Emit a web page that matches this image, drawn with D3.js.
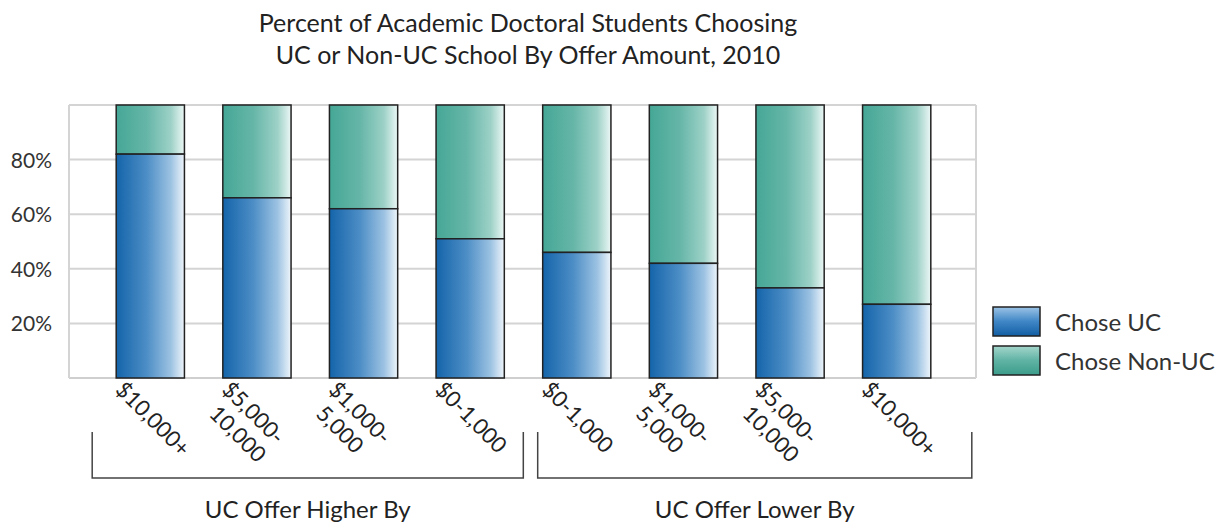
<!DOCTYPE html>
<html>
<head>
<meta charset="utf-8">
<script src="https://cdn.jsdelivr.net/npm/d3@7"></script>
<style>
  body { margin: 0; background: #fff; }
  svg { display: block; font-family: Lato, "Open Sans", sans-serif; }
</style>
</head>
<body>
<svg id="chart" width="1228" height="522"></svg>
<script>
// data
const offerBands = ['h10', 'h5', 'h1', 'h0', 'l0', 'l1', 'l5', 'l10'];
const bandLabels = [
  ['$10,000+'], ['$5,000-', '10,000'], ['$1,000-', '5,000'], ['$0-1,000'],
  ['$0-1,000'], ['$1,000-', '5,000'], ['$5,000-', '10,000'], ['$10,000+']
];
const choseUC = [82, 66, 62, 51, 46, 42, 33, 27];
const yTicks = [20, 40, 60, 80];
const groups = [
  { label: 'UC Offer Higher By', from: 0, to: 3 },
  { label: 'UC Offer Lower By', from: 4, to: 7 }
];
const seriesNames = ['Chose UC', 'Chose Non-UC'];

const svg = d3.select('#chart');
const plot = { left: 69, right: 976, top: 105, bottom: 378 };

const x = d3.scaleBand().domain(offerBands).range([97, 950]).paddingInner(0.36).paddingOuter(0.18);
const y = d3.scaleLinear().domain([0, 100]).range([plot.bottom, plot.top]);

// gradients
const defs = svg.append('defs');
function grad(id, stops, vertical) {
  const g = defs.append('linearGradient').attr('id', id)
    .attr('x1', 0).attr('y1', 0).attr('x2', vertical ? 0 : 1).attr('y2', vertical ? 1 : 0);
  stops.forEach(s => g.append('stop').attr('offset', s[0]).attr('stop-color', s[1]));
}
grad('gBlue', [[0, '#1464aa'], [0.45, '#4d8ec6'], [0.8, '#9cc2e2'], [1, '#eef5fb']], false);
grad('gTeal', [[0, '#45a796'], [0.45, '#66b6a8'], [0.8, '#9dd1c7'], [1, '#ecf7f5']], false);
grad('gBlueLeg', [[0, '#9cc4e6'], [0.5, '#3f86c6'], [1, '#125ea3']], true);
grad('gTealLeg', [[0, '#a5d6cc'], [0.5, '#5fb3a4'], [1, '#3c9c8b']], true);

// title
svg.append('text').attr('x', 528).attr('y', 32).attr('text-anchor', 'middle')
  .attr('font-size', 25).attr('fill', '#222')
  .selectAll('tspan').data(['Percent of Academic Doctoral Students Choosing', 'UC or Non-UC School By Offer Amount, 2010'])
  .enter().append('tspan').attr('x', 528).attr('dy', (d, i) => i ? 32 : 0).text(d => d);

// grid
svg.append('g').selectAll('line').data([...yTicks, 100]).enter().append('line')
  .attr('x1', plot.left).attr('x2', plot.right)
  .attr('y1', d => y(d)).attr('y2', d => y(d))
  .attr('stroke', '#d4d4d4').attr('stroke-width', 2);
svg.append('line').attr('x1', plot.left).attr('x2', plot.right).attr('y1', plot.bottom).attr('y2', plot.bottom)
  .attr('stroke', '#cfcfcf').attr('stroke-width', 2);
[plot.left, plot.right].forEach(px => svg.append('line').attr('x1', px).attr('x2', px)
  .attr('y1', plot.top).attr('y2', plot.bottom).attr('stroke', '#d4d4d4').attr('stroke-width', 2));

// y labels
svg.append('g').selectAll('text').data(yTicks).enter().append('text')
  .attr('x', 52).attr('y', d => y(d) + 8).attr('text-anchor', 'end')
  .attr('font-size', 21).attr('fill', '#333').text(d => d + '%');

// bars
const bars = svg.append('g');
bars.selectAll('rect.nonuc').data(offerBands).enter().append('rect')
  .attr('x', d => x(d)).attr('width', x.bandwidth())
  .attr('y', y(100)).attr('height', (d, i) => y(choseUC[i]) - y(100))
  .attr('fill', 'url(#gTeal)').attr('stroke', '#222').attr('stroke-width', 1.5);
bars.selectAll('rect.uc').data(offerBands).enter().append('rect')
  .attr('x', d => x(d)).attr('width', x.bandwidth())
  .attr('y', (d, i) => y(choseUC[i])).attr('height', (d, i) => y(0) - y(choseUC[i]))
  .attr('fill', 'url(#gBlue)').attr('stroke', '#222').attr('stroke-width', 1.5);

// x labels, rotated
const lab = svg.append('g').selectAll('text').data(offerBands).enter().append('text')
  .attr('transform', d => `translate(${x(d) - 2},${plot.bottom + 13}) rotate(45)`)
  .attr('font-size', 22).attr('fill', '#222');
lab.selectAll('tspan').data((d, i) => bandLabels[i]).enter().append('tspan')
  .attr('x', (d, i) => i ? 8 : 0).attr('dy', (d, i) => i ? 26 : 0).text(d => d);

// group brackets
const bracketPad = [[-24, 19], [-5, 41]];
groups.forEach((g, gi) => {
  const x0 = x(offerBands[g.from]) + bracketPad[gi][0];
  const x1 = x(offerBands[g.to]) + x.bandwidth() + bracketPad[gi][1];
  svg.append('path').attr('d', `M${x0},432V478H${x1}V432`)
    .attr('fill', 'none').attr('stroke', '#444').attr('stroke-width', 1.5);
  svg.append('text').attr('x', (x0 + x1) / 2).attr('y', 518).attr('text-anchor', 'middle')
    .attr('font-size', 24).attr('fill', '#222').text(g.label);
});

// legend
const leg = svg.append('g').attr('transform', 'translate(993,307)');
seriesNames.forEach((s, i) => {
  leg.append('rect').attr('x', 0).attr('y', i * 39).attr('width', 47).attr('height', 29)
    .attr('fill', i ? 'url(#gTealLeg)' : 'url(#gBlueLeg)').attr('stroke', '#222').attr('stroke-width', 1.5);
  leg.append('text').attr('x', 62).attr('y', i * 39 + 24).attr('font-size', 24).attr('fill', '#333').text(s);
});
</script>
</body>
</html>
